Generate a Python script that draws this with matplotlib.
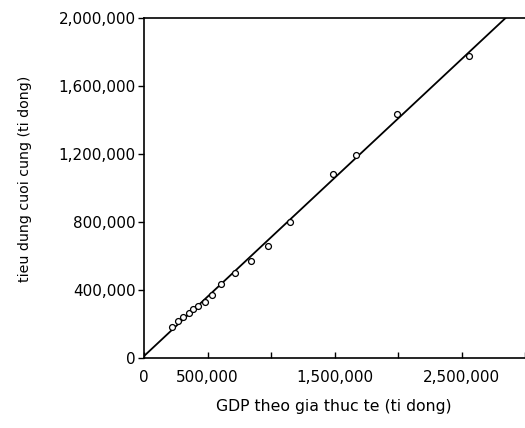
import numpy as np
import matplotlib
matplotlib.use("Agg")
import matplotlib.pyplot as plt
from matplotlib.ticker import FixedLocator, FixedFormatter

# GDP (ti dong) and final consumption (ti dong)
gdp = [220000, 268000, 307000, 354000, 386000, 425000, 480000, 535000, 606000,
       717000, 843000, 976000, 1150000, 1488000, 1669000, 1992000, 2559000]
consumption = [182000, 218000, 241000, 265000, 288000, 306000, 329000, 371000, 435000,
               500000, 571000, 659000, 800000, 1082000, 1194000, 1435000, 1776000]

x_ticks = [0, 500000, 1000000, 1500000, 2000000, 2500000, 3000000]
x_labels = ["0", "500,000", "", "1,500,000", "", "2,500,000", ""]
y_ticks = [0, 400000, 800000, 1200000, 1600000, 2000000]
y_labels = ["0", "400,000", "800,000", "1,200,000", "1,600,000", "2,000,000"]

plt.rcParams["font.family"] = ["DejaVu Sans"]

W, H = 525, 428
fig = plt.figure(figsize=(W/100, H/100), dpi=100)
ax = fig.add_axes([144/W, 1-358/H, 1-144/W, 340/H])

x = np.array(gdp, dtype=float)
y = np.array(consumption, dtype=float)
b, a = np.polyfit(x, y, 1)
xl = np.array([0, 3000000.0])
ax.plot(xl, a + b*xl, color="black", lw=1.3, zorder=2)
ax.scatter(x, y, s=18, facecolors="white", edgecolors="black", linewidths=0.9, zorder=3)

ax.set_xlim(0, 3000000)
ax.set_ylim(0, 2000000)
ax.xaxis.set_major_locator(FixedLocator(x_ticks))
ax.xaxis.set_major_formatter(FixedFormatter(x_labels))
ax.yaxis.set_major_locator(FixedLocator(y_ticks))
ax.yaxis.set_major_formatter(FixedFormatter(y_labels))

for s in ["left", "bottom", "top"]:
    ax.spines[s].set_linewidth(1.2)
    ax.spines[s].set_color("black")
ax.spines["right"].set_visible(False)

ax.tick_params(axis="x", direction="in", length=4, width=1, labelsize=11, pad=9)
ax.tick_params(axis="y", direction="out", length=4, width=1, labelsize=11, pad=2)

ax.set_xlabel("GDP theo gia thuc te (ti dong)", fontsize=11.3)
ax.set_ylabel("tieu dung cuoi cung (ti dong)", fontsize=10.2)
# label positions in axes coordinates
ax.xaxis.set_label_coords((334 - 144) / (W - 144), -(407 - 358) / 340)
ax.yaxis.set_label_coords(-(144 - 25) / (W - 144), (358 - 179) / 340)
ax.xaxis.label.set_va("center")
ax.yaxis.label.set_va("center")

fig.savefig("out.png", dpi=100)
